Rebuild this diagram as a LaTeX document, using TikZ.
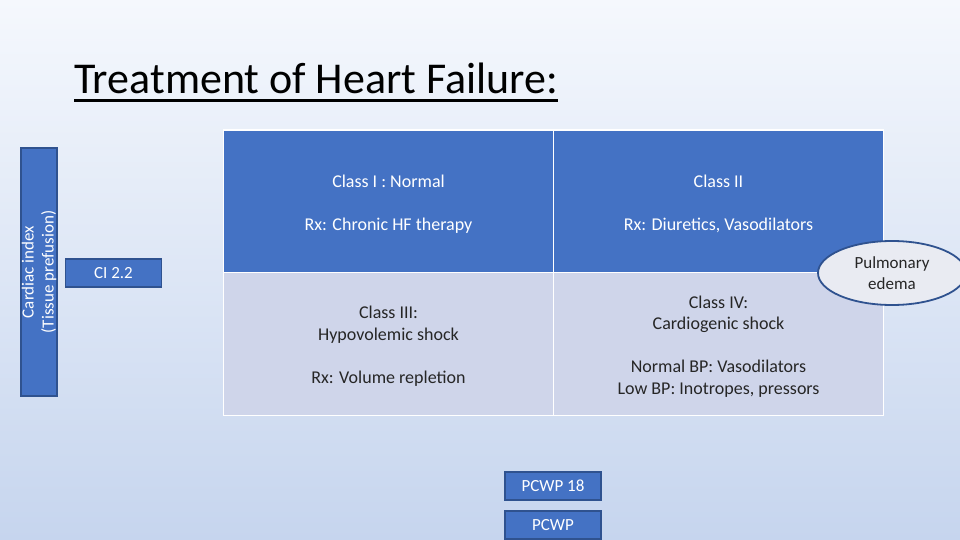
\documentclass[tikz,border=0pt]{standalone}
\usepackage{fontspec}
\setmainfont{Carlito}
\usetikzlibrary{shapes.geometric}

\definecolor{hfblue}{HTML}{4472C4}
\definecolor{hfedge}{HTML}{2F528F}
\definecolor{hflight}{HTML}{CFD5EA}
\definecolor{hfgray}{HTML}{E9EBF2}
\definecolor{bgtop}{HTML}{F5F8FD}
\definecolor{bgmid}{HTML}{AABEE3}
\definecolor{bgbot}{HTML}{C6D5EE}

% thick underline for the title
\newcommand{\hfuline}[1]{\leavevmode\vtop{\hbox{#1}\kern 5pt\hrule height 3pt}}

\tikzset{
  cell/.style={draw=white, line width=1.5pt, inner sep=0pt,
    minimum width=330pt, minimum height=143pt},
  celltext/.style={align=center, inner sep=0pt, yshift=-2.5pt,
    font=\fontsize{18}{21.6}\selectfont},
  tag/.style={draw=hfedge, line width=1.5pt, fill=hfblue, text=white,
    inner sep=0pt, minimum width=96pt, minimum height=28pt,
    font=\fontsize{17}{20}\selectfont}
}

\begin{document}
\begin{tikzpicture}[x=1pt,y=-1pt]

    % Page and background
    \useasboundingbox (0,0) rectangle (960,540);
    \clip (0,0) rectangle (960,540);
    \shade[top color=bgtop, middle color=bgmid, bottom color=bgbot]
        (0,0) rectangle (960,540);

    % Title
    \node[anchor=base west, inner sep=0pt, font=\fontsize{44}{52}\selectfont]
        (title) at (74,94) {\hfuline{Treatment of Heart Failure:}};

    % Define the centres of the four cells
    \coordinate (TL) at (388.5,201.5);
    \coordinate (TR) at (718.5,201.5);
    \coordinate (BL) at (388.5,344);
    \coordinate (BR) at (718.5,344);

    % The four cells
    \node[cell, fill=hfblue] (classI) at (TL) {};
    \node[cell, fill=hfblue] (classII) at (TR) {};
    \node[cell, fill=hflight] (classIII) at (BL) {};
    \node[cell, fill=hflight] (classIV) at (BR) {};

    % Their texts
    \node[celltext, text=white] (txtI) at (classI)
        {Class I : Normal\\[21.6pt]Rx: Chronic HF therapy};
    \node[celltext, text=white] (txtII) at (classII)
        {Class II\\[21.6pt]Rx: Diuretics, Vasodilators};
    \node[celltext, text=black!85] (txtIII) at (classIII)
        {Class III:\\Hypovolemic shock\\[21.6pt]Rx: Volume repletion};
    \node[celltext, text=black!85] (txtIV) at (classIV)
        {Class IV:\\Cardiogenic shock\\[21.6pt]Normal BP: Vasodilators\\Low BP: Inotropes, pressors};

    % Vertical axis
    \node[draw=hfedge, line width=1.5pt, fill=hfblue, text=white, rotate=90,
        inner sep=0pt, minimum width=248pt, minimum height=36pt, align=center,
        font=\fontsize{17}{20}\selectfont]
        (ciaxis) at (39,272) {Cardiac index\\(Tissue prefusion)};
    \node[tag] (ci) at (113.5,273) {CI 2.2};

    % Horizontal axis
    \node[tag] (pcwp18) at (553,486) {PCWP 18};
    \node[tag] (pcwp) at (553,525) {PCWP};

    % Pulmonary edema
    \node[ellipse, draw=hfedge, line width=1.8pt, fill=hfgray, text=black!85,
        inner sep=0pt, minimum width=148pt, minimum height=64pt, align=center,
        font=\fontsize{17}{21}\selectfont]
        (edema) at (892,273) {Pulmonary\\edema};

\end{tikzpicture}
\end{document}
